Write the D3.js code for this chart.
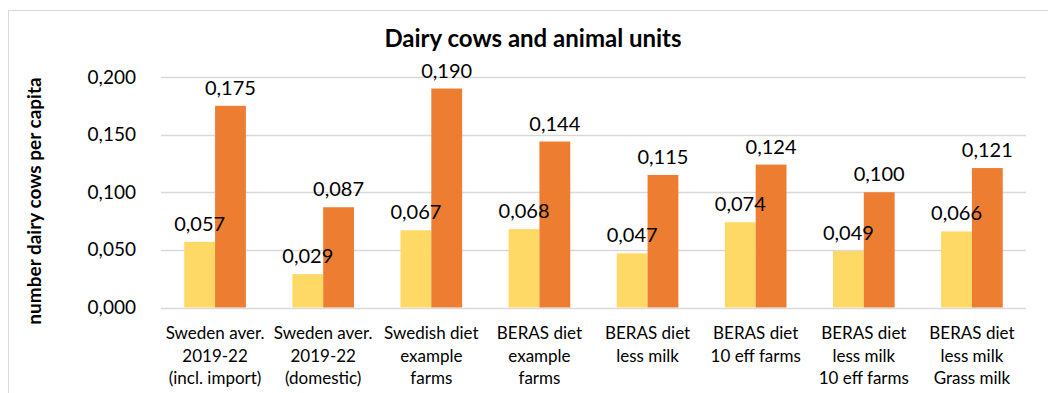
<!DOCTYPE html>
<html>
<head>
<meta charset="utf-8">
<script src="https://cdn.jsdelivr.net/npm/d3@7"></script>
<style>
  body { margin: 0; background: #fff; }
  text { font-family: Lato, "Liberation Sans", sans-serif; fill: #000; }
</style>
</head>
<body>
<div id="content"></div>
<script>
// Data set.
var categories = [
  ["Sweden aver.", "2019-22", "(incl. import)"],
  ["Sweden aver.", "2019-22", "(domestic)"],
  ["Swedish diet", "example", "farms"],
  ["BERAS diet", "example", "farms"],
  ["BERAS diet", "less milk"],
  ["BERAS diet", "10 eff farms"],
  ["BERAS diet", "less milk", "10 eff farms"],
  ["BERAS diet", "less milk", "Grass milk"]
];
var dairyCows = [0.057, 0.029, 0.067, 0.068, 0.047, 0.074, 0.049, 0.066];
var animalUnits = [0.175, 0.087, 0.190, 0.144, 0.115, 0.124, 0.100, 0.121];
var yTicks = [0, 0.05, 0.10, 0.15, 0.20];
var seriesColors = ["#FFD966", "#ED7D31"];

// SVG Dimensions.
var width = 1048, height = 393;
var plot = {left: 161, right: 1026, top: 77, bottom: 307.5};

var svg = d3.select('#content')
              .append('svg')
              .attr('width', width)
              .attr('height', height);

// Chart area border.
svg.append('rect')
    .attr('x', 8.5).attr('y', 10.5)
    .attr('width', 1045).attr('height', 390)
    .attr('fill', 'none')
    .attr('stroke', '#d9d9d9');

var fmt = function(v) { return d3.format('.3f')(v).replace('.', ','); };

// Scales.
var x = d3.scaleBand()
            .domain(d3.range(categories.length))
            .range([plot.left, plot.right])
            .paddingInner(0.43)
            .paddingOuter(0.215);
var x1 = d3.scaleBand().domain([0, 1]).range([0, x.bandwidth()]);
var y = d3.scaleLinear().domain([0, 0.2]).range([plot.bottom, plot.top]);

// Gridlines.
svg.append('g')
    .selectAll('line')
    .data(yTicks)
    .enter().append('line')
    .attr('x1', plot.left).attr('x2', plot.right)
    .attr('y1', function(d) { return Math.round(y(d)) + 0.5; })
    .attr('y2', function(d) { return Math.round(y(d)) + 0.5; })
    .attr('stroke', '#d9d9d9')
    .attr('stroke-width', 1.3);

// Y axis labels.
var yAxis = svg.append('g')
    .attr('transform', 'translate(' + (plot.left - 22) + ',0)')
    .call(d3.axisLeft(y).tickValues(yTicks).tickFormat(fmt).tickSize(0));
yAxis.select('.domain').remove();
yAxis.selectAll('text')
    .attr('font-size', 19)
    .attr('font-family', 'Lato, sans-serif');

// Bars, then value labels on top of all bars.
var series = [dairyCows, animalUnits];
series.forEach(function(vals, si) {
  svg.append('g')
      .selectAll('rect')
      .data(vals)
      .enter().append('rect')
      .attr('x', function(d, i) { return x(i) + x1(si); })
      .attr('y', function(d) { return y(d); })
      .attr('width', x1.bandwidth())
      .attr('height', function(d) { return y(0) - y(d); })
      .attr('fill', seriesColors[si]);
});
series.forEach(function(vals, si) {
  svg.append('g')
      .selectAll('text')
      .data(vals)
      .enter().append('text')
      .attr('x', function(d, i) { return x(i) + x1(si) + x1.bandwidth() / 2; })
      .attr('y', function(d) { return y(d) - 11; })
      .attr('text-anchor', 'middle')
      .attr('font-size', 20)
      .text(fmt);
});

// Category labels.
var cat = svg.append('g')
    .selectAll('text')
    .data(categories)
    .enter().append('text')
    .attr('text-anchor', 'middle')
    .attr('font-size', 17);
cat.selectAll('tspan')
    .data(function(d, i) { return d.map(function(t) { return {t: t, i: i}; }); })
    .enter().append('tspan')
    .attr('x', function(d) { return x(d.i) + x.bandwidth() / 2; })
    .attr('y', function(d, j) { return 339 + j * 22.5; })
    .text(function(d) { return d.t; });

// Title.
svg.append('text')
    .attr('x', 533).attr('y', 47)
    .attr('text-anchor', 'middle')
    .attr('font-size', 24)
    .attr('font-weight', 'bold')
    .text('Dairy cows and animal units');

// Y axis title.
svg.append('text')
    .attr('transform', 'translate(41,201) rotate(-90)')
    .attr('text-anchor', 'middle')
    .attr('font-size', 19)
    .attr('font-weight', 'bold')
    .text('number dairy cows per capita');
</script>
</body>
</html>
